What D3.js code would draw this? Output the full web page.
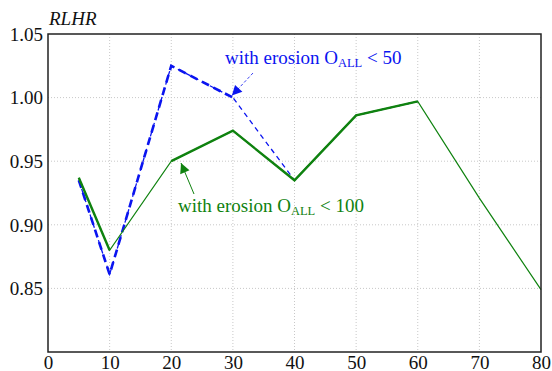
<!DOCTYPE html>
<html>
<head>
<meta charset="utf-8">
<script src="https://cdn.jsdelivr.net/npm/d3@7"></script>
<style>
body { margin: 0; background: #fff; }
</style>
</head>
<body>
<svg id="chart"></svg>
<script>
let w = 552;
let h = 371;
let serifFont = "'Liberation Serif', 'Times New Roman', Times, serif";
let fs = 19;

// data
let greenX = [5, 10, 20, 30, 40, 50, 60, 70, 80];
let greenY = [0.937, 0.880, 0.950, 0.974, 0.935, 0.986, 0.997, 0.921, 0.849];
let blueX = [5, 10, 20, 30, 40, 50, 60];
let blueY = [0.935, 0.861, 1.025, 1.000, 0.935, 0.986, 0.997];
// x ranges where the line is drawn heavy
let greenBold = [[5, 10], [20, 60]];
let blueBold = [[5, 30]];
let xTicks = [0, 10, 20, 30, 40, 50, 60, 70, 80];
let yTicks = [0.85, 0.90, 0.95, 1.00, 1.05];

let mLeft = 48, mRight = 541, mTop = 34, mBottom = 352;

let svg = d3.select("#chart").attr("width", w).attr("height", h);

let x = d3.scaleLinear().domain([0, 80]).range([mLeft, mRight]);
let y = d3.scaleLinear().domain([0.80, 1.05]).range([mBottom, mTop]);

// grid
svg.append("g")
	.selectAll("line")
	.data(xTicks.slice(1, -1))
	.join("line")
		.attr("x1", d => x(d)).attr("x2", d => x(d))
		.attr("y1", mTop).attr("y2", mBottom)
		.attr("stroke", "#c8c8c8").attr("stroke-dasharray", "1,2");
svg.append("g")
	.selectAll("line")
	.data(yTicks.slice(0, -1))
	.join("line")
		.attr("x1", mLeft).attr("x2", mRight)
		.attr("y1", d => y(d)).attr("y2", d => y(d))
		.attr("stroke", "#c8c8c8").attr("stroke-dasharray", "1,2");

// axes (labels only, no tick marks)
let xAxis = svg.append("g")
	.attr("transform", `translate(0,${mBottom})`)
	.call(d3.axisBottom(x).tickValues(xTicks).tickSize(0).tickPadding(0).tickFormat(d3.format("d")));
let yAxis = svg.append("g")
	.attr("transform", `translate(${mLeft},0)`)
	.call(d3.axisLeft(y).tickValues(yTicks).tickSize(0).tickPadding(5).tickFormat(d3.format(".2f")));
[xAxis, yAxis].forEach(a => {
	a.select(".domain").remove();
	a.attr("font-size", fs);
});
xAxis.selectAll("text").attr("y", 17).attr("dy", null);
yAxis.selectAll("text").attr("dy", "0.33em");

function pts(xs, ys) { return xs.map((d, i) => ({x: d, y: ys[i]})); }

let line = d3.line().x(d => x(d.x)).y(d => y(d.y));

function drawSeries(data, bold, color, thinW, boldW, thinDash, boldDash) {
	svg.append("path")
		.attr("d", line(data))
		.attr("fill", "none").attr("stroke", color).attr("stroke-width", thinW)
		.attr("stroke-dasharray", thinDash);
	bold.forEach(r => {
		let seg = data.filter(d => d.x >= r[0] && d.x <= r[1]);
		svg.append("path")
			.attr("d", line(seg))
			.attr("fill", "none").attr("stroke", color).attr("stroke-width", boldW)
			.attr("stroke-dasharray", boldDash);
	});
}

drawSeries(pts(blueX, blueY), blueBold, "#0a14f0", 1.3, 2.6, "5,4", "8,5");
drawSeries(pts(greenX, greenY), greenBold, "#0f820f", 1.2, 2.4, null, null);

// frame
svg.append("rect")
	.attr("x", mLeft).attr("y", mTop)
	.attr("width", mRight - mLeft).attr("height", mBottom - mTop)
	.attr("fill", "none").attr("stroke", "#222").attr("stroke-width", 1.5);

// y title
svg.append("text")
	.attr("x", mLeft + 1).attr("y", 25)
	.attr("font-size", fs).attr("font-style", "italic")
	.text("RLHR");

// arrowheads
let defs = svg.append("defs");
[["arrBlue", "#0a14f0"], ["arrGreen", "#0f820f"]].forEach(a => {
	defs.append("marker")
		.attr("id", a[0])
		.attr("viewBox", "0 0 10 10")
		.attr("refX", 10).attr("refY", 5)
		.attr("markerWidth", 12).attr("markerHeight", 10)
		.attr("markerUnits", "userSpaceOnUse")
		.attr("orient", "auto")
		.append("path").attr("d", "M0,0 L10,5 L0,10 Z").attr("fill", a[1]);
});

// annotation: blue
svg.append("line")
	.attr("x1", 253).attr("y1", 73)
	.attr("x2", x(30) - 1).attr("y2", y(1.00) - 2)
	.attr("stroke", "#0a14f0").attr("stroke-width", 0.8).attr("stroke-dasharray", "3,2")
	.attr("marker-end", "url(#arrBlue)");
let tb = svg.append("text")
	.attr("x", 225).attr("y", 64)
	.attr("font-size", fs).attr("fill", "#0a14f0");
tb.append("tspan").text("with erosion O");
tb.append("tspan").attr("font-size", 12.5).attr("dy", 3).text("ALL");
tb.append("tspan").attr("dy", -3).text(" < 50");

// annotation: green
svg.append("line")
	.attr("x1", 194).attr("y1", 194)
	.attr("x2", 181).attr("y2", 163)
	.attr("stroke", "#0f820f").attr("stroke-width", 1)
	.attr("marker-end", "url(#arrGreen)");
let tg = svg.append("text")
	.attr("x", 178).attr("y", 212)
	.attr("font-size", fs).attr("fill", "#0f820f");
tg.append("tspan").text("with erosion O");
tg.append("tspan").attr("font-size", 12.5).attr("dy", 3).text("ALL");
tg.append("tspan").attr("dy", -3).text(" < 100");

// every text in the serif face
svg.selectAll("text")
	.attr("font-family", "Liberation Serif")
	.style("font-family", serifFont)
	.filter(function() { return !this.getAttribute("fill") || this.getAttribute("fill") === "currentColor"; })
	.attr("fill", "#111");
</script>
</body>
</html>
